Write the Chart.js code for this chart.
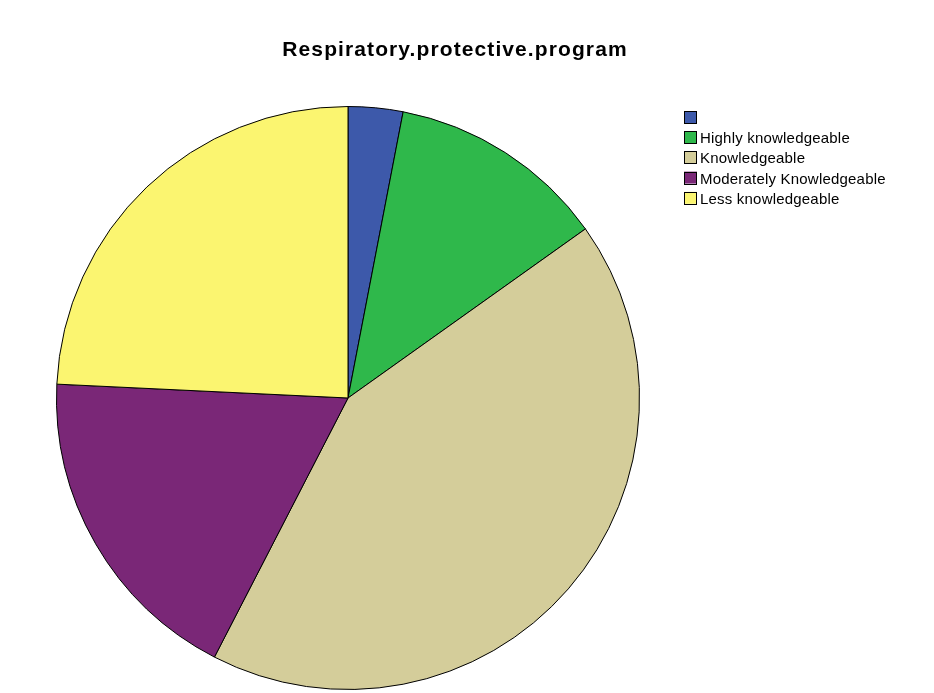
<!DOCTYPE html>
<html>
<head>
<meta charset="utf-8">
<script src="https://cdn.jsdelivr.net/npm/chart.js@4.4.1/dist/chart.umd.min.js"></script>
<style>
  html, body { margin: 0; padding: 0; background: #ffffff; }
  #wrap { width: 934px; height: 693px; }
</style>
</head>
<body>
<div id="wrap"><canvas id="pie" width="934" height="693"></canvas></div>
<script>
const categories = ['', 'Highly knowledgeable', 'Knowledgeable', 'Moderately Knowledgeable', 'Less knowledgeable'];
const counts = [1, 4, 14, 6, 8];
const sliceColors = ['#3d59aa', '#2fb84b', '#d4cd9a', '#7a2777', '#fbf570'];
const chartTitle = 'Respiratory.protective.program';

// title and legend are painted by hand so they sit where SPSS puts them
const spssDecor = {
    id: 'spssDecor',
    afterDraw(chart) {
        const ctx = chart.ctx;
        ctx.save();
        ctx.fillStyle = '#000000';
        ctx.font = 'bold 21px "Liberation Sans", Arial, sans-serif';
        ctx.letterSpacing = '1.1px';
        ctx.textAlign = 'center';
        ctx.textBaseline = 'alphabetic';
        ctx.fillText(chartTitle, 455, 56);

        ctx.font = '15px "Liberation Sans", Arial, sans-serif';
        ctx.letterSpacing = '0.2px';
        ctx.textAlign = 'left';
        ctx.lineWidth = 1;
        categories.forEach((label, i) => {
            const y = 111 + i * 20.2;
            ctx.fillStyle = sliceColors[i];
            ctx.fillRect(684, y, 13, 12);
            ctx.strokeStyle = '#000000';
            ctx.strokeRect(684.5, Math.round(y) + 0.5, 12, 12);
            ctx.fillStyle = '#000000';
            ctx.fillText(label, 700, y + 12);
        });
        ctx.restore();
    }
};

new Chart(document.getElementById('pie'), {
    type: 'pie',
    data: {
        labels: categories,
        datasets: [{
            data: counts,
            backgroundColor: sliceColors,
            borderColor: '#000000',
            borderWidth: 1
        }]
    },
    options: {
        responsive: false,
        animation: false,
        layout: { padding: { left: 56, top: 106, right: 294, bottom: 3 } },
        plugins: {
            legend: { display: false },
            title: { display: false },
            tooltip: { enabled: false }
        }
    },
    plugins: [spssDecor]
});
</script>
</body>
</html>
